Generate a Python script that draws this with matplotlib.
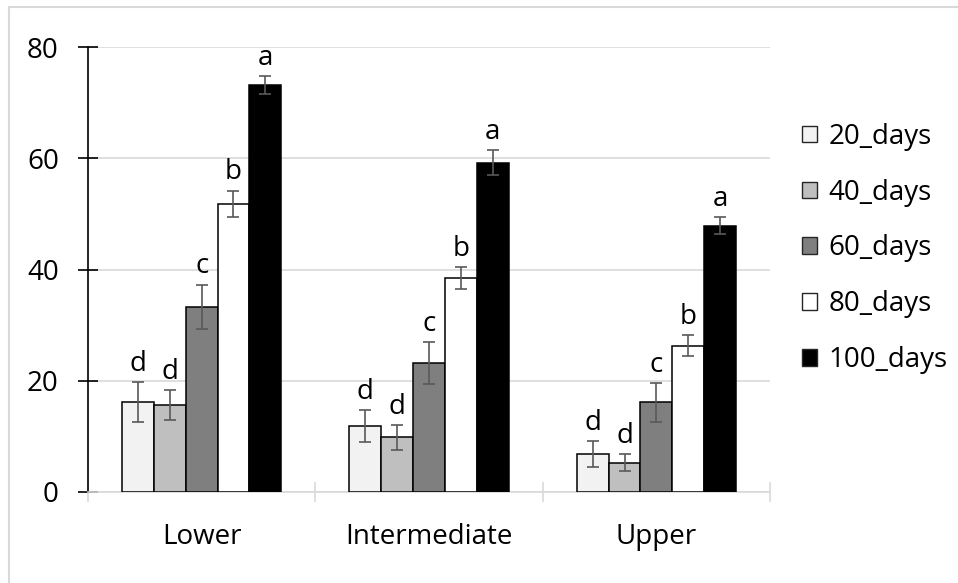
import numpy as np
import matplotlib
matplotlib.use("Agg")
import matplotlib.pyplot as plt
from matplotlib.patches import Patch, Rectangle

plt.rcParams['font.family'] = ['Open Sans', 'DejaVu Sans']

# data
zones = ['Lower', 'Intermediate', 'Upper']
series = ['20_days', '40_days', '60_days', '80_days', '100_days']
means = {
    '20_days': [16.1, 11.9, 6.8],
    '40_days': [15.6, 9.8, 5.3],
    '60_days': [33.3, 23.2, 16.1],
    '80_days': [51.8, 38.5, 26.3],
    '100_days': [73.2, 59.2, 47.9],
}
errs = {
    '20_days': [3.6, 2.85, 2.3],
    '40_days': [2.7, 2.3, 1.5],
    '60_days': [4.0, 3.8, 3.5],
    '80_days': [2.4, 1.95, 1.9],
    '100_days': [1.6, 2.3, 1.6],
}
letters = {
    '20_days': ['d', 'd', 'd'],
    '40_days': ['d', 'd', 'd'],
    '60_days': ['c', 'c', 'c'],
    '80_days': ['b', 'b', 'b'],
    '100_days': ['a', 'a', 'a'],
}
yticks = [0, 20, 40, 60, 80]

colors = ['#f2f2f2', '#bfbfbf', '#7f7f7f', '#ffffff', '#000000']
fs = 20
grid_c = '#d9d9d9'

fig = plt.figure(figsize=(9.58, 5.83), dpi=100)
ax = fig.add_axes([88 / 958, 1 - 492 / 583, 682 / 958, 445 / 583])

x = np.arange(len(zones))
w = 0.14
for i, s in enumerate(series):
    pos = x + (i - 2) * w
    ax.bar(pos, means[s], w, color=colors[i], edgecolor='black', linewidth=1.1,
           zorder=3)
    ax.errorbar(pos, means[s], yerr=errs[s], fmt='none', ecolor='#595959',
                elinewidth=1.2, capsize=4, capthick=1.2, zorder=4)
    for p, m, e, t in zip(pos, means[s], errs[s], letters[s]):
        ax.annotate(t, (p, m + e), xytext=(0, 8), textcoords='offset points',
                    ha='center', va='baseline', fontsize=fs)

ax.set_xlim(-0.5, 2.5)
ax.set_ylim(0, 80)
ax.set_yticks(yticks)
ax.yaxis.grid(True, color=grid_c, linewidth=1.2, zorder=0)
ax.set_axisbelow(True)

ax.set_xticks(x)
ax.set_xticklabels(zones, fontsize=fs)
ax.set_xticks([-0.5, 0.5, 1.5, 2.5], minor=True)
ax.tick_params(axis='x', which='major', length=0, pad=22)
ax.tick_params(axis='x', which='minor', direction='inout', length=14,
               color=grid_c, width=1.2)
ax.tick_params(axis='y', direction='inout', length=14, width=1.2,
               pad=14, labelsize=fs)

for side in ['top', 'right']:
    ax.spines[side].set_visible(False)
ax.spines['left'].set_color('black')
ax.spines['left'].set_linewidth(1.2)
ax.spines['bottom'].set_color(grid_c)
ax.spines['bottom'].set_linewidth(1.2)

handles = [Patch(facecolor=c, edgecolor='#262626', linewidth=1.0) for c in colors]
fig.legend(handles, series, loc='center left',
           bbox_to_anchor=(802 / 958, 1 - 248.5 / 583), frameon=False,
           fontsize=fs, handlelength=0.55, handleheight=0.55,
           handletextpad=0.4, labelspacing=1.0, borderpad=0,
           borderaxespad=0)

# light frame around the chart area
fig.patches.append(Rectangle((9 / 958, -0.01), 1.0, 1 - 7 / 583 + 0.01,
                             transform=fig.transFigure, fill=False,
                             edgecolor=grid_c, linewidth=1.5))

fig.savefig('out.png', dpi=100)
